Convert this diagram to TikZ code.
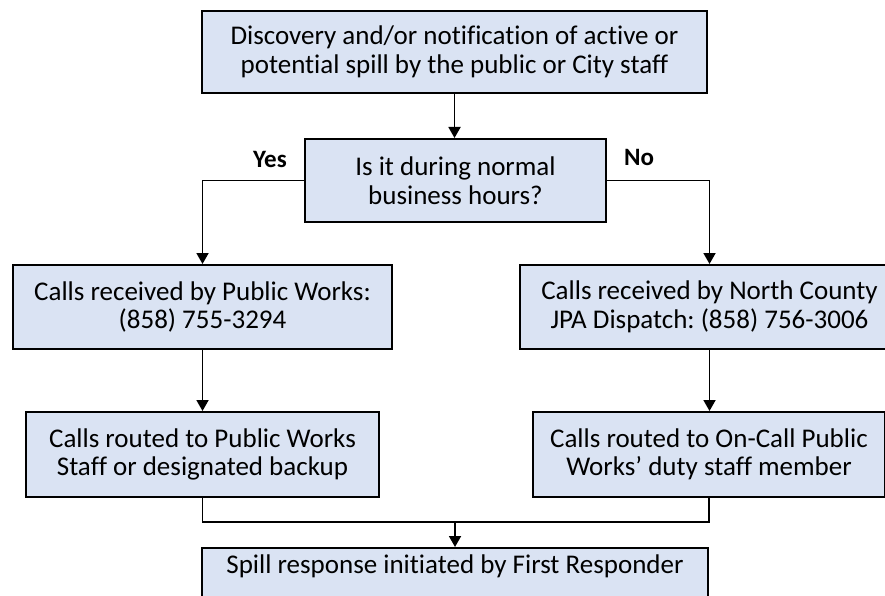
\documentclass[tikz,border=0pt]{standalone}
\usepackage{fontspec}
\setmainfont[Ligatures=NoCommon]{Carlito}
\usetikzlibrary{arrows.meta,positioning}
\definecolor{boxfill}{HTML}{DAE3F3}
\frenchspacing
\tikzset{
  box/.style={draw=black, line width=2pt, fill=boxfill, align=center,
    font=\fontsize{27}{28.5}\selectfont, inner sep=2pt},
  lbl/.style={font=\fontsize{25}{28}\selectfont\bfseries},
  conn/.style={line width=1.8pt, draw=black},
  arr/.style={conn, -{Triangle[length=11pt,width=12pt]}}
}
\begin{document}
\begin{tikzpicture}[x=1pt,y=-1pt]
\useasboundingbox (0,0) rectangle (885,596);
\node[box, minimum width=505, minimum height=82] (top) at (454.5,52)
  {Discovery and/or notification of active or\\potential spill by the public or City staff};
\node[box, minimum width=301, minimum height=83] (dec) at (455.5,180.5)
  {Is it during normal\\business hours?};
\node[box, minimum width=379, minimum height=84] (l1) at (202.5,307)
  {Calls received by Public Works:\\(858) 755-3294};
\node[box, minimum width=379, minimum height=84] (r1) at (709.5,307)
  {Calls received by North County\\JPA Dispatch: (858) 756-3006};
\node[box, minimum width=353, minimum height=85] (l2) at (202.5,454.5)
  {Calls routed to Public Works\\Staff or designated backup};
\node[box, minimum width=352, minimum height=85] (r2) at (709,454.5)
  {Calls routed to On-Call Public\\Works’ duty staff member};
\node[box, minimum width=506, text height=22pt, text depth=24pt, inner ysep=3pt] (bot) at (455,574)
  {Spill response initiated by First Responder};
\node[lbl] (yes) at (270,159) {Yes};
\node[lbl] (no) at (639,157) {No};
\coordinate (j) at (455,522);
\draw[arr] (top.south) -- (top.south |- dec.north);
\draw[arr] (dec.west) -| (l1.north);
\draw[arr] (dec.east) -| (r1.north);
\draw[arr] (l1.south) -- (l2.north);
\draw[arr] (r1.south) -- (r1.south |- r2.north);
\draw[conn] (l2.south) |- (j) -| (r2.south);
\draw[arr] (j) -- (bot.north);
\end{tikzpicture}
\end{document}
